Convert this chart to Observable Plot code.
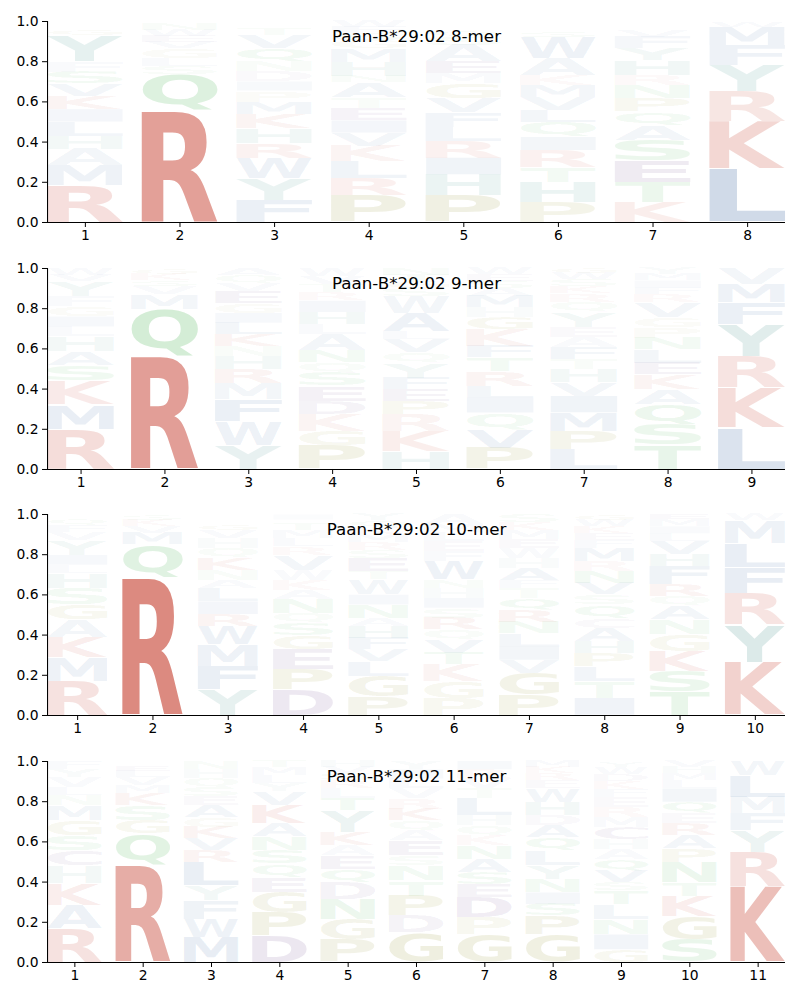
<!DOCTYPE html>
<html><head><meta charset="utf-8">
<script src="https://cdn.jsdelivr.net/npm/d3@7"></script>
<script src="https://cdn.jsdelivr.net/npm/@observablehq/plot@0.6"></script>
<style>
body{margin:0;background:#fff}
#chart svg{display:block}
</style>
</head><body><div id="chart"></div>
<script>
// ---------- data (bottom → top within each position) ----------
const titles = ["Paan-B*29:02 8-mer", "Paan-B*29:02 9-mer", "Paan-B*29:02 10-mer", "Paan-B*29:02 11-mer"];

const letters8 = ["RMAHLIKVSFYGWQ", "RQSLGVEWNT", "FYWRHKMPIDNQVTSL", "PRLKVIETANHMGSFW",
  "PHIRLFVGMEASQTN", "PHTRIQLVMKAWSGE", "KTESAQPNRHYFVML", "LKRYFMW"];
const heights8 = [
  [.184,.096,.083,.066,.07,.063,.066,.061,.058,.055,.128,.03,.02,.02],
  [.557,.18,.04,.04,.05,.03,.03,.03,.03,.013],
  [.11,.108,.1,.075,.075,.07,.06,.056,.046,.05,.05,.066,.066,.03,.02,.02],
  [.134,.086,.083,.076,.066,.061,.061,.055,.075,.03,.07,.066,.04,.035,.031,.03],
  [.134,.103,.083,.083,.071,.071,.07,.075,.05,.058,.083,.04,.03,.025,.025],
  [.1,.1,.075,.083,.066,.075,.058,.066,.058,.05,.083,.108,.03,.025,.023],
  [.1,.1,.108,.1,.075,.066,.066,.066,.05,.075,.058,.058,.03,.025,.023],
  [.267,.235,.15,.13,.096,.094,.028]
];

const letters9 = ["RMKSAHLIGFYVW", "RQMVSKG", "YWFMRHNKLIGEVQA", "PGKDESQNALHIRTVW",
  "HKRPEFYQVLAWSGTN", "PVQILRTFKGHMASEW", "LPMIVHTFAEYQRKSWG", "TSQAKELNPGVRFIMY", "LKRYFMV"];
const heights9 = [
  [.2,.12,.12,.078,.066,.075,.05,.05,.05,.05,.075,.03,.03],
  [.563,.233,.075,.04,.03,.03,.028],
  [.12,.117,.108,.08,.073,.063,.05,.058,.058,.05,.05,.058,.04,.04,.03],
  [.117,.072,.083,.067,.075,.067,.05,.058,.083,.05,.058,.058,.04,.04,.04,.04],
  [.088,.1,.083,.067,.058,.058,.075,.05,.067,.04,.09,.083,.04,.035,.032,.03],
  [.105,.092,.083,.075,.058,.075,.067,.058,.083,.058,.05,.058,.04,.035,.032,.03],
  [.097,.092,.092,.083,.067,.067,.05,.058,.05,.05,.075,.05,.042,.035,.035,.03,.028],
  [.12,.1,.1,.075,.075,.058,.067,.058,.05,.05,.075,.04,.035,.035,.03,.03],
  [.205,.2,.158,.158,.108,.092,.078]
];

const letters10 = ["RMKAGSHLIYVFQW", "RQMVKS", "YFMWRILANKQHVGSE", "DPEGSQNAKWVRLMTFI",
  "PGLVFHANIWTESRMKQY", "PGKTVQRSIHNWFELMA", "PGVILNRQTFAHWEMKS", "ITLPHACQSVNRMFEKWG",
  "TSKGNAQRFHVLIME", "KYRFLMW"];
const heights10 = [
  [.17,.116,.1,.088,.075,.083,.075,.04,.05,.075,.04,.035,.03,.023],
  [.685,.163,.058,.035,.03,.029],
  [.126,.116,.108,.091,.061,.063,.066,.041,.05,.058,.05,.05,.04,.03,.025,.025],
  [.126,.103,.096,.071,.061,.05,.071,.045,.05,.05,.075,.04,.04,.04,.03,.025,.025],
  [.093,.1,.075,.058,.058,.058,.041,.066,.05,.075,.041,.066,.04,.04,.04,.035,.035,.03],
  [.085,.083,.083,.058,.066,.05,.058,.05,.05,.05,.041,.09,.05,.05,.045,.04,.05],
  [.1,.108,.066,.066,.066,.058,.058,.058,.05,.041,.058,.05,.05,.045,.045,.04,.04],
  [.085,.083,.075,.066,.058,.066,.05,.066,.05,.058,.058,.05,.066,.04,.035,.035,.03,.03],
  [.118,.1,.1,.083,.075,.066,.05,.058,.09,.058,.066,.04,.035,.035,.026],
  [.264,.186,.158,.128,.121,.111,.032]
];

const letters11 = ["RAKHCSGMNLVYF", "RQGSKMVLET", "MWFYLRVKGAESQHN", "DPGEQSNAKVYLMT",
  "PGNDQEAKYTLRSVH", "GDPTNSEAQKRVLIY", "GPDESANKQHLTVRI", "GPSINYLQADHWERKM",
  "GINLTSVQAHCMREFKDWY", "SGKTNPAREQILMHV", "KRYFMLW"];
const heights11 = [
  [.167,.117,.108,.088,.075,.075,.075,.075,.05,.04,.05,.04,.04],
  [.483,.155,.067,.075,.058,.04,.04,.03,.027,.025],
  [.122,.092,.092,.075,.117,.058,.058,.058,.05,.058,.045,.045,.045,.045,.04],
  [.13,.117,.1,.075,.067,.067,.067,.067,.092,.067,.04,.04,.04,.033],
  [.113,.1,.1,.083,.067,.067,.05,.067,.108,.058,.05,.04,.035,.032,.03],
  [.147,.083,.1,.075,.075,.05,.075,.05,.05,.058,.05,.05,.05,.045,.042],
  [.138,.083,.1,.067,.058,.067,.067,.05,.05,.05,.083,.05,.05,.045,.042],
  [.138,.092,.058,.058,.067,.067,.075,.067,.058,.05,.067,.067,.04,.035,.032,.03],
  [.063,.075,.075,.075,.067,.042,.058,.058,.05,.05,.058,.05,.05,.05,.04,.04,.035,.035,.028],
  [.113,.117,.1,.067,.1,.067,.067,.058,.05,.058,.067,.04,.035,.032,.03],
  [.375,.172,.108,.083,.083,.108,.07]
];

const yTicks = [0, 0.2, 0.4, 0.6, 0.8, 1.0];
const aminoAcids = ["R","K","Y","H","A","V","L","I","M","F","W","Q","S","T","N","P","G","D","E","C"];
const aaColors = ["#cc5446","#cc5446","#3f8f88","#3f8f88","#4d76aa","#4d76aa","#4d76aa","#4d76aa","#4d76aa","#4d76aa","#4d76aa",
  "#45b04f","#45b04f","#45b04f","#45b04f","#8f8f2a","#8f8f2a","#6e468c","#6e468c","#6e468c"];

// ---------- glyph ink metrics ----------
const FONT = "'DejaVu Sans'";
const ctx = document.createElement("canvas").getContext("2d");
ctx.font = `bold 100px ${FONT}`;
const ink = {};
for (const ch of aminoAcids) {
  const m = ctx.measureText(ch);
  ink[ch] = {l: m.actualBoundingBoxLeft, r: m.actualBoundingBoxRight, a: m.actualBoundingBoxAscent, d: m.actualBoundingBoxDescent};
}

function logoRows(letters, heights) {
  const rows = [];
  letters.forEach((str, p) => {
    let y = 0;
    [...str].forEach((ch, k) => {
      const h = heights[p][k];
      rows.push({pos: p + 1, letter: ch, h, y0: y, y1: y + h});
      y += h;
    });
  });
  return rows;
}

const panels = [
  [letters8, heights8], [letters9, heights9], [letters10, heights10], [letters11, heights11]
];
const H = 246.67, MT = 21, INNER = 201;
const chart = document.getElementById("chart");

panels.forEach(([letters, heights], idx) => {
  const n = letters.length;
  const data = logoRows(letters, heights);
  const xDomain = [0.6, n + 0.4];
  const plot = Plot.plot({
    width: 800, height: H,
    marginLeft: 47, marginRight: 15, marginTop: MT, marginBottom: H - MT - INNER,
    style: {fontFamily: "'DejaVu Sans', sans-serif", fontSize: "13.9px", color: "black", background: "white", overflow: "visible"},
    x: {domain: xDomain, label: null},
    y: {domain: [0, 1], label: null},
    color: {domain: aminoAcids, range: aaColors},
    opacity: {type: "linear", domain: [0, 0.7], range: [0, 0.9]},
    marks: [
      Plot.text(data, {
        x: "pos", y: d => (d.y0 + d.y1) / 2, text: "letter",
        fill: "letter", fillOpacity: "h",
        fontSize: 100, fontWeight: "bold", fontFamily: FONT, textAnchor: "start",
        className: "logo-glyphs"
      }),
      Plot.ruleY([0], {stroke: "black", strokeWidth: 1.1}),
      Plot.ruleX([xDomain[0]], {stroke: "black", strokeWidth: 1.1}),
      Plot.axisX({ticks: d3.range(1, n + 1), tickFormat: "d", tickSize: 5, tickPadding: 3, label: null, stroke: "black"}),
      Plot.axisY({ticks: yTicks, tickFormat: ".1f", tickSize: 5, tickPadding: 4, label: null, stroke: "black"}),
      Plot.text([titles[idx]], {frameAnchor: "top", lineAnchor: "middle", dy: 15, text: d => d, fontSize: 16.7, fill: "black"})
    ]
  });
  chart.appendChild(plot);

  const xs = plot.scale("x"), ys = plot.scale("y");
  let g = plot.querySelector("g.logo-glyphs");
  if (!g) g = plot.querySelector('g[aria-label="text"]');
  g.removeAttribute("transform");
  g.querySelectorAll("text").forEach((el, j) => {
    const i = (typeof el.__data__ === "number") ? el.__data__ : j;
    const d = data[i];
    const m = ink[d.letter];
    const pad = 0.01 * d.h;
    const L = xs.apply(d.pos - 0.4), R = xs.apply(d.pos + 0.4);
    const T = ys.apply(d.y1 - pad), B = ys.apply(d.y0 + pad);
    const sx = (R - L) / (m.l + m.r), sy = (B - T) / (m.a + m.d);
    el.removeAttribute("dy"); el.removeAttribute("x"); el.removeAttribute("y");
    el.setAttribute("text-anchor", "start");
    el.style.font = `bold 100px ${FONT}`;
    el.setAttribute("transform", `translate(${L},${T}) scale(${sx},${sy}) translate(${m.l},${m.a})`);
  });
});
</script>
</body></html>
